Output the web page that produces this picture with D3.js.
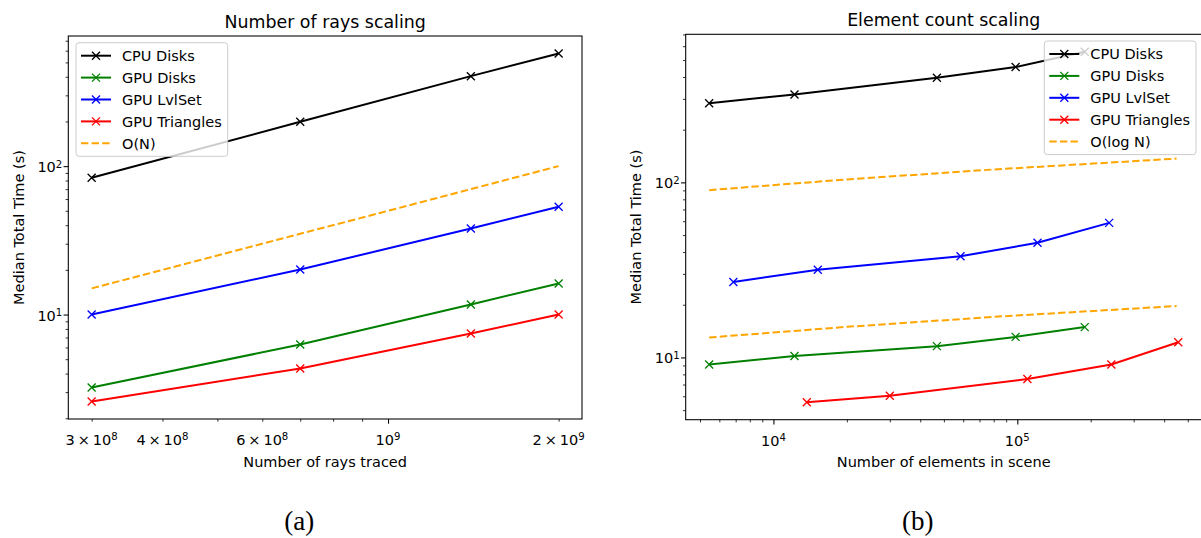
<!DOCTYPE html>
<html>
<head>
<meta charset="utf-8">
<script src="https://cdn.jsdelivr.net/npm/d3@7"></script>
<style>
  body { margin: 0; background: #fff; }
  text { font-family: "DejaVu Sans", sans-serif; fill: #000; }
</style>
</head>
<body>
<svg id="fig" width="1201" height="538"></svg>
<script>
// (a) number of rays scaling
var raysX = [3e8, 7e8, 1.4e9, 2e9];
var raysCpuDisks = [83.4, 199, 404, 575];
var raysGpuDisks = [3.22, 6.28, 11.7, 16.2];
var raysGpuLvlSet = [10.0, 20.1, 38.0, 53.2];
var raysGpuTriangles = [2.59, 4.33, 7.45, 10.0];
var raysLinear = [15, 35, 70, 100];
var raysTickValues = [3e8, 4e8, 6e8, 1e9, 2e9];
var raysTickLabels = ['3×10^8', '4×10^8', '6×10^8', '10^9', '2×10^9'];

// (b) element count scaling
var elemDisksX = [5450, 12200, 46800, 98400, 189000];
var elemCpuDisks = [283, 318, 396, 456, 557];
var elemGpuDisks = [9.12, 10.2, 11.6, 13.1, 14.9];
var elemLvlSetX = [6850, 15200, 58500, 121000, 238000];
var elemGpuLvlSet = [27.0, 31.7, 37.8, 45.2, 58.7];
var elemTrianglesX = [13700, 30000, 110000, 243000, 457000];
var elemGpuTriangles = [5.55, 6.04, 7.52, 9.12, 12.2];
var elemLogX = [5450, 20000, 80000, 450000];
var elemLogUpper = [90.3, 104.0, 118.5, 136.7];
var elemLogLower = [13.0, 14.95, 17.05, 19.66];
var elemTickValues = [1e4, 1e5];
var elemTickLabels = ['10^4', '10^5'];

var timeTickValues = [10, 100];
var timeTickLabels = ['10^1', '10^2'];

var seriesNames = ['CPU Disks', 'GPU Disks', 'GPU LvlSet', 'GPU Triangles'];
var seriesColors = ['black', 'green', 'blue', 'red'];
var refColor = 'orange';

var fontSize = 14.5;
var svg = d3.select('#fig');

function zip(xs, ys){
  return xs.map(function(v, i){ return [v, ys[i]]; });
}

// matplotlib style 5% margin in log space
function padLog(values){
  var lo = Math.log10(d3.min(values)), hi = Math.log10(d3.max(values));
  var m = (hi - lo) * 0.05;
  return [Math.pow(10, lo - m), Math.pow(10, hi + m)];
}

// write "a×10^b" as text with a raised exponent
function mathLabel(sel, label){
  var parts = label.split('^');
  var base = parts[0].replace('×', '\u2009×\u2009');
  sel.append('tspan').text(base);
  if (parts.length > 1){
    sel.append('tspan').attr('dy', '-0.45em').attr('font-size', (fontSize * 0.7) + 'px').text(parts[1]);
  }
}

function isMajor(v){
  var l = Math.log10(v);
  return Math.abs(l - Math.round(l)) < 1e-9;
}

function drawPanel(cfg){
  var g = svg.append('g');
  var allX = [], allY = [];
  cfg.lines.forEach(function(s){ allX = allX.concat(s.xs); allY = allY.concat(s.ys); });
  var x = d3.scaleLog().domain(padLog(allX)).range([cfg.left, cfg.right]);
  var y = d3.scaleLog().domain(padLog(allY)).range([cfg.bottom, cfg.top]);

  var xt = x.ticks(), yt = y.ticks();

  // ticks
  var xMinor = d3.axisBottom(x).tickValues(xt.filter(function(v){ return !isMajor(v); }))
                 .tickSize(2.7).tickFormat('');
  var xMajor = d3.axisBottom(x).tickValues(xt.filter(isMajor)).tickSize(4.7).tickFormat('');
  var yMinor = d3.axisLeft(y).tickValues(yt.filter(function(v){ return !isMajor(v); }))
                 .tickSize(2.7).tickFormat('');
  var yMajor = d3.axisLeft(y).tickValues(yt.filter(isMajor)).tickSize(4.7).tickFormat('');
  [[xMinor, 'x', 0.8], [xMajor, 'x', 1.07], [yMinor, 'y', 0.8], [yMajor, 'y', 1.07]].forEach(function(a){
    var ag = g.append('g')
      .attr('transform', a[1] == 'x' ? 'translate(0,' + cfg.bottom + ')' : 'translate(' + cfg.left + ',0)')
      .call(a[0]);
    ag.select('.domain').remove();
    ag.selectAll('line').attr('stroke', '#000').attr('stroke-width', a[2]);
  });

  // tick labels
  cfg.xTickValues.forEach(function(v, i){
    g.append('text').attr('x', x(v)).attr('y', cfg.bottom + 26)
      .attr('text-anchor', 'middle').attr('font-size', fontSize + 'px')
      .call(mathLabel, cfg.xTickLabels[i]);
  });
  timeTickValues.forEach(function(v, i){
    g.append('text').attr('x', cfg.left - 6).attr('y', y(v) + 6)
      .attr('text-anchor', 'end').attr('font-size', fontSize + 'px')
      .call(mathLabel, timeTickLabels[i]);
  });

  // series
  var line = d3.line().x(function(d){ return x(d[0]); }).y(function(d){ return y(d[1]); });
  cfg.lines.forEach(function(s){
    var pts = zip(s.xs, s.ys);
    g.append('path').attr('d', line(pts)).attr('fill', 'none')
      .attr('stroke', s.color).attr('stroke-width', 2)
      .attr('stroke-dasharray', s.dashed ? '7.4,3.2' : null);
    if (!s.dashed){
      g.selectAll(null).data(pts).enter().append('path')
        .attr('transform', function(d){ return 'translate(' + x(d[0]) + ',' + y(d[1]) + ')'; })
        .attr('d', 'M-4,-4L4,4M-4,4L4,-4')
        .attr('stroke', s.color).attr('stroke-width', 1.33).attr('fill', 'none');
    }
  });

  // frame
  g.append('rect').attr('x', cfg.left).attr('y', cfg.top)
    .attr('width', cfg.right - cfg.left).attr('height', cfg.bottom - cfg.top)
    .attr('fill', 'none').attr('stroke', '#000').attr('stroke-width', 1.07);

  // title and axis labels
  g.append('text').attr('x', (cfg.left + cfg.right) / 2).attr('y', cfg.top - 8.5)
    .attr('text-anchor', 'middle').attr('font-size', (fontSize * 1.2) + 'px').text(cfg.title);
  g.append('text').attr('x', (cfg.left + cfg.right) / 2).attr('y', cfg.bottom + 47.5)
    .attr('text-anchor', 'middle').attr('font-size', fontSize + 'px').text(cfg.xLabel);
  g.append('text')
    .attr('transform', 'translate(' + cfg.yLabelX + ',' + (cfg.top + cfg.bottom) / 2 + ') rotate(-90)')
    .attr('text-anchor', 'middle').attr('font-size', fontSize + 'px').text('Median Total Time (s)');

  // legend
  var lg = g.append('g');
  var box = lg.append('rect').attr('x', cfg.legendX).attr('y', cfg.legendY).attr('rx', 3)
    .attr('fill', '#fff').attr('fill-opacity', 0.8).attr('stroke', '#ccc').attr('stroke-width', 1);
  var maxW = 0;
  cfg.legend.forEach(function(s, i){
    var ry = cfg.legendY + 13 + i * 21.9;
    var x0 = cfg.legendX + 5, x1 = cfg.legendX + 35;
    lg.append('line').attr('x1', x0).attr('x2', x1).attr('y1', ry).attr('y2', ry)
      .attr('stroke', s.color).attr('stroke-width', 2)
      .attr('stroke-dasharray', s.dashed ? '7.4,3.2' : null);
    if (!s.dashed){
      lg.append('path').attr('transform', 'translate(' + (x0 + x1) / 2 + ',' + ry + ')')
        .attr('d', 'M-4,-4L4,4M-4,4L4,-4')
        .attr('stroke', s.color).attr('stroke-width', 1.33);
    }
    var t = lg.append('text').attr('x', cfg.legendX + 46).attr('y', ry + 5.3)
      .attr('font-size', fontSize + 'px').text(s.name);
    maxW = Math.max(maxW, t.node().getComputedTextLength());
  });
  box.attr('width', 46 + maxW + 6).attr('height', 13 + 4 * 21.9 + 13);

  g.append('text').attr('x', (cfg.left + cfg.right) / 2 - 26).attr('y', 530)
    .attr('text-anchor', 'middle').attr('font-size', '27px')
    .style('font-family', '"Liberation Serif", serif').text(cfg.caption);
}

var leftLines = [
  {xs: raysX, ys: raysCpuDisks, color: seriesColors[0]},
  {xs: raysX, ys: raysGpuDisks, color: seriesColors[1]},
  {xs: raysX, ys: raysGpuLvlSet, color: seriesColors[2]},
  {xs: raysX, ys: raysGpuTriangles, color: seriesColors[3]},
  {xs: raysX, ys: raysLinear, color: refColor, dashed: true}
];
var rightLines = [
  {xs: elemDisksX, ys: elemCpuDisks, color: seriesColors[0]},
  {xs: elemDisksX, ys: elemGpuDisks, color: seriesColors[1]},
  {xs: elemLvlSetX, ys: elemGpuLvlSet, color: seriesColors[2]},
  {xs: elemTrianglesX, ys: elemGpuTriangles, color: seriesColors[3]},
  {xs: elemLogX, ys: elemLogUpper, color: refColor, dashed: true},
  {xs: elemLogX, ys: elemLogLower, color: refColor, dashed: true}
];
function legendItems(refName){
  var items = seriesNames.map(function(n, i){ return {name: n, color: seriesColors[i]}; });
  items.push({name: refName, color: refColor, dashed: true});
  return items;
}

drawPanel({
  left: 68.3, right: 582, top: 36, bottom: 419, yLabelX: 24,
  lines: leftLines, legend: legendItems('O(N)'), legendX: 76, legendY: 42.7,
  xTickValues: raysTickValues, xTickLabels: raysTickLabels,
  title: 'Number of rays scaling', xLabel: 'Number of rays traced', caption: '(a)'
});
drawPanel({
  left: 685.7, right: 1201.7, top: 34.3, bottom: 419.7, yLabelX: 641,
  lines: rightLines, legend: legendItems('O(log N)'), legendX: 1044.3, legendY: 41,
  xTickValues: elemTickValues, xTickLabels: elemTickLabels,
  title: 'Element count scaling', xLabel: 'Number of elements in scene', caption: '(b)'
});
</script>
</body>
</html>
